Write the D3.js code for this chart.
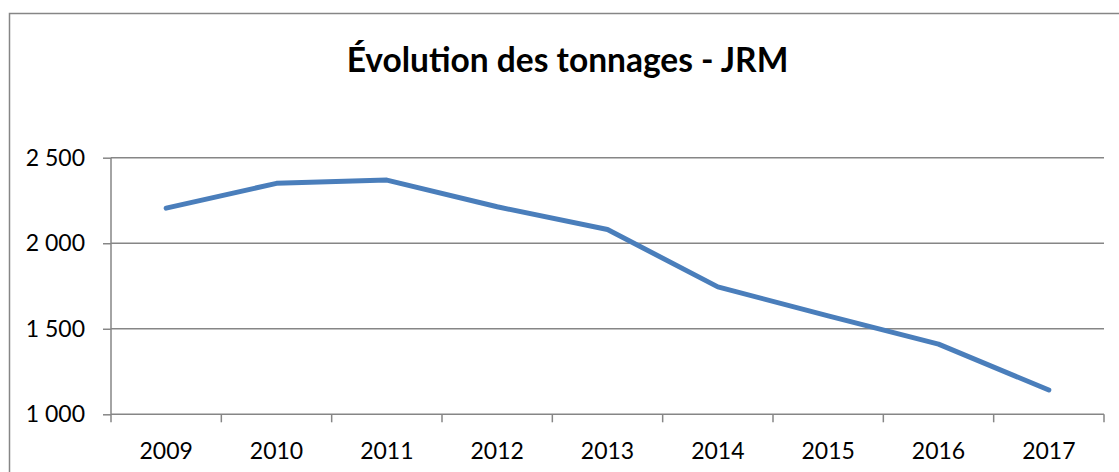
<!DOCTYPE html>
<html><head><meta charset="utf-8">
<script src="https://cdn.jsdelivr.net/npm/d3@7"></script>
<style>html,body{margin:0;padding:0;background:#fff;overflow:hidden}</style>
</head><body>
<svg id="c" width="1119" height="472"></svg>
<script>
const title = "Évolution des tonnages - JRM";
const years = ["2009","2010","2011","2012","2013","2014","2015","2016","2017"];
const tonnages = [2205, 2350, 2369, 2213, 2080, 1745, 1575, 1410, 1142];
const yTicks = [1000, 1500, 2000, 2500];

const svg = d3.select("#c");
const font = "Lato, 'Open Sans', sans-serif";
const grey = "#868686";

// chart border
svg.append("rect").attr("x", 9.5).attr("y", 13.5).attr("width", 1130).attr("height", 500)
  .attr("fill", "#fff").attr("stroke", grey).attr("stroke-width", 1.5);

svg.append("text").attr("x", 567.5).attr("y", 72).attr("text-anchor", "middle")
  .attr("font-family", font).attr("font-weight", "bold").attr("font-size", 33.5)
  .attr("fill", "#000").text(title);

const L = 111, R = 1104, T = 157.7, B = 414.3;
const x = d3.scaleBand().domain(years).range([L, R]);
const y = d3.scaleLinear().domain([1000, 2500]).range([B, T]);

// gridlines
svg.append("g").selectAll("line").data(yTicks.filter(d => d > 1000)).join("line")
  .attr("x1", L).attr("x2", R).attr("y1", d => y(d)).attr("y2", d => y(d))
  .attr("stroke", grey).attr("stroke-width", 1.5);

const fmt = d => d3.format(",")(d).replace(/,/g, "\u00a0");

const ya = svg.append("g").attr("transform", `translate(${L},0)`)
  .call(d3.axisLeft(y).tickValues(yTicks).tickSize(8).tickPadding(18).tickFormat(fmt));
const xa = svg.append("g").attr("transform", `translate(0,${B})`)
  .call(d3.axisBottom(x).tickSize(8).tickPadding(20));
// ticks at category boundaries
xa.selectAll(".tick line").attr("transform", `translate(${-x.bandwidth()/2},0)`);
xa.append("line").attr("x1", R).attr("x2", R).attr("y1", 0).attr("y2", 8).attr("stroke", grey).attr("stroke-width", 1.5);

[ya, xa].forEach(a => {
  a.select(".domain").attr("stroke", grey).attr("stroke-width", 1.5);
  a.selectAll(".tick line").attr("stroke", grey).attr("stroke-width", 1.5);
  a.selectAll("text").attr("font-family", font).attr("font-size", 23).attr("fill", "#000");
});
ya.select(".domain").attr("d", `M0,${B}V${T}`);
xa.select(".domain").attr("d", `M${L},0H${R}`);

const line = d3.line().x((d, i) => x(years[i]) + x.bandwidth()/2).y(d => y(d));
svg.append("path").datum(tonnages).attr("d", line)
  .attr("fill", "none").attr("stroke", "#4a7ebb").attr("stroke-width", 5)
  .attr("stroke-linejoin", "round").attr("stroke-linecap", "round");
</script>
</body></html>
